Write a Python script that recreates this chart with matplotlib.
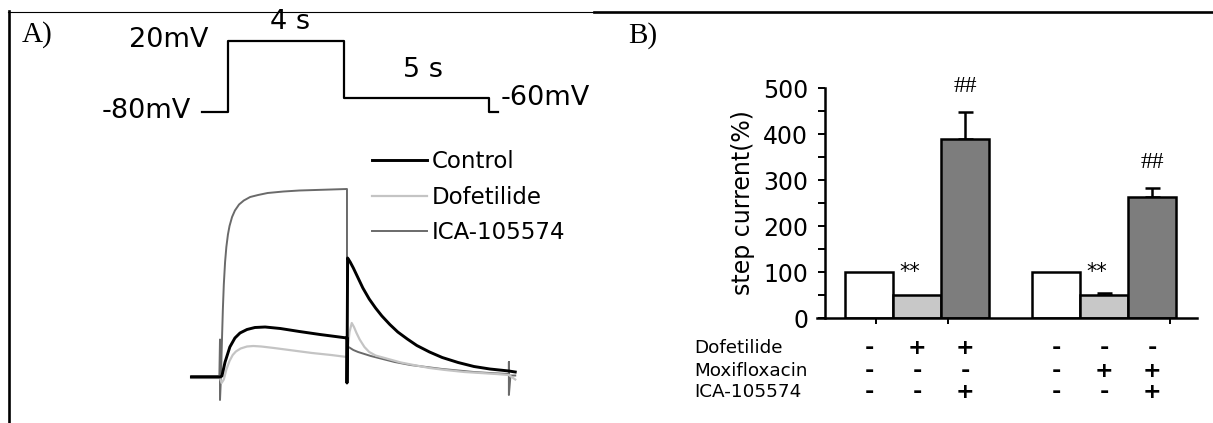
import matplotlib.pyplot as plt
from matplotlib.lines import Line2D
from matplotlib.transforms import blended_transform_factory

plt.rcParams['font.family'] = 'DejaVu Sans'

W, H = 1213, 423

# voltage protocol (s, mV)
proto_t = [-0.9, 0.0, 0.0, 4.0, 4.0, 9.0, 9.0, 9.3]
proto_v = [-80, -80, 20, 20, -60, -60, -80, -80]

# current traces (s, normalised to the control step current)
ctrl_t = [-0.9, 0.0, 0.06, 0.16, 0.31, 0.47, 0.63, 0.85, 1.1, 1.42, 1.9, 2.5, 3.15, 4.0,
          4.0, 4.02, 4.1, 4.2, 4.35, 4.5, 4.7, 4.9, 5.1, 5.35, 5.6, 5.9, 6.2, 6.6, 7.0,
          7.5, 8.0, 8.5, 9.1, 9.3]
ctrl_i = [0.0, 0.0, 0.02, 0.3, 0.6, 0.78, 0.88, 0.95, 0.99, 1.0, 0.97, 0.91, 0.85, 0.78,
          -0.12, 2.38, 2.3, 2.18, 1.98, 1.78, 1.56, 1.38, 1.22, 1.05, 0.9, 0.76, 0.63, 0.5, 0.39,
          0.29, 0.21, 0.16, 0.12, 0.1]

dof_t = [-0.9, 0.0, 0.05, 0.12, 0.2, 0.3, 0.4, 0.5, 0.65, 0.85, 1.05, 1.3, 1.7, 2.3, 2.9,
         3.5, 4.0, 4.03, 4.08, 4.15, 4.22, 4.3, 4.4, 4.55, 4.7, 4.9, 5.3, 5.7, 6.1, 6.6,
         7.1, 7.7, 8.2, 8.7, 9.1, 9.3]
dof_i = [-0.02, -0.02, -0.12, -0.05, 0.15, 0.32, 0.44, 0.51, 0.57, 0.61, 0.62, 0.61, 0.58,
         0.53, 0.48, 0.44, 0.4, 0.6, 0.9, 1.08, 1.0, 0.88, 0.75, 0.6, 0.5, 0.43, 0.36, 0.29,
         0.24, 0.18, 0.14, 0.1, 0.08, 0.06, 0.04, -0.05]

ica_t = [-0.9, -0.02, 0.0, 0.0, 0.03, 0.06, 0.09, 0.12, 0.16, 0.2, 0.25, 0.3, 0.38, 0.47,
         0.6, 0.75, 0.95, 1.2, 1.5, 2.0, 2.5, 3.0, 3.5, 4.0, 4.0, 4.1, 4.2, 4.35, 4.5, 4.75,
         5.0, 5.25, 5.5, 5.75, 6.0, 6.5, 7.0, 7.5, 8.0, 8.5, 9.1, 9.1, 9.1, 9.15, 9.3]
ica_i = [0.02, 0.02, 0.75, -0.46, 0.0, 0.7, 1.35, 1.85, 2.3, 2.6, 2.85, 3.02, 3.2, 3.33,
         3.45, 3.53, 3.6, 3.64, 3.68, 3.71, 3.73, 3.74, 3.75, 3.76, 0.62, 0.58, 0.54, 0.5, 0.47,
         0.42, 0.38, 0.34, 0.3, 0.27, 0.24, 0.2, 0.16, 0.13, 0.1, 0.08, 0.06, 0.3, -0.36, 0.03,
         0.03]

# panel B: step current (%) mean and upper SEM
bar_pos = [1, 2, 3, 4.9, 5.9, 6.9]
step_mean = [100, 50, 390, 100, 50, 263]
step_err = [0, 0, 58, 0, 4, 20]
bar_colors = ['white', '#c8c8c8', '#7d7d7d', 'white', '#c8c8c8', '#7d7d7d']
stars = ['', '**', '', '', '**', '']
hashes = ['', '', '##', '', '', '##']

row_names = ['Dofetilide', 'Moxifloxacin', 'ICA-105574']
row_signs = [['-', '+', '+', '-', '-', '-'],
             ['-', '-', '-', '-', '+', '+'],
             ['-', '-', '+', '-', '-', '+']]


def px_box(x0, y0, x1, y1):
    return [x0 / W, 1 - y1 / H, (x1 - x0) / W, (y1 - y0) / H]


fig = plt.figure(figsize=(W / 100, H / 100), dpi=100)

# --- table borders and panel letters
fig.add_artist(Line2D([8 / W, 594 / W], [1 - 12 / H] * 2, lw=0.8, color='black'))
fig.add_artist(Line2D([594 / W, 1.0], [1 - 12 / H] * 2, lw=1.9, color='black'))
fig.add_artist(Line2D([8.7 / W] * 2, [0.0, 1 - 11.5 / H], lw=1.9, color='black'))
fig.text(22 / W, 1 - 42 / H, 'A)', family='Liberation Serif', fontsize=21, va='baseline')
fig.text(628 / W, 1 - 43 / H, 'B)', family='Liberation Serif', fontsize=21, va='baseline')

# --- A: voltage protocol
ax_p = fig.add_axes(px_box(180, 20, 540, 130))
ax_p.plot(proto_t, proto_v, color='black', lw=1.6)
ax_p.set_xlim(-1.655, 10.76)
ax_p.set_ylim(-105.4, 49.6)
ax_p.axis('off')
fs_p = 19.5
ax_p.annotate('20mV', xy=(0, 20), xytext=(-14, 1), textcoords='offset points',
              ha='right', va='center', fontsize=fs_p)
ax_p.annotate('-80mV', xy=(proto_t[0], -80), xytext=(-8, 1), textcoords='offset points',
              ha='right', va='center', fontsize=fs_p)
ax_p.annotate('4 s', xy=(2, 20), xytext=(3, 14), textcoords='offset points',
              ha='center', va='center', fontsize=fs_p)
ax_p.annotate('5 s', xy=(6.5, -60), xytext=(5, 20), textcoords='offset points',
              ha='center', va='center', fontsize=fs_p)
ax_p.annotate('-60mV', xy=(proto_t[-1], -60), xytext=(2, 0), textcoords='offset points',
              ha='left', va='center', fontsize=fs_p)

# --- A: current traces
ax_t = fig.add_axes(px_box(180, 170, 540, 410))
ax_t.plot(ica_t, ica_i, color='#6a6a6a', lw=1.4, label='ICA-105574')
ax_t.plot(dof_t, dof_i, color='#c4c4c4', lw=1.6, label='Dofetilide')
ax_t.plot(ctrl_t, ctrl_i, color='black', lw=2.1, label='Control')
ax_t.set_xlim(-1.26, 10.08)
ax_t.set_ylim(-0.66, 4.14)
ax_t.axis('off')
handles, labels = ax_t.get_legend_handles_labels()
ax_t.legend(handles[::-1], labels[::-1], loc='upper left',
            bbox_to_anchor=(372 / W, 1 - 150 / H), bbox_transform=fig.transFigure,
            frameon=False, fontsize=16.5, handlelength=2.4, handletextpad=0.2,
            labelspacing=0.55, borderpad=0, borderaxespad=0)

# --- B: bar chart
ax_b = fig.add_axes(px_box(817, 88, 1197, 318))
ax_b.bar(bar_pos, step_mean, width=1.0, color=bar_colors, edgecolor='black', lw=1.8, zorder=2)
for x, m, e in zip(bar_pos, step_mean, step_err):
    if e > 0:
        ax_b.errorbar(x, m, yerr=[[0], [e]], fmt='none', ecolor='black',
                      elinewidth=1.8, capsize=5.4, capthick=1.8, zorder=1)
for x, m, e, s in zip(bar_pos, step_mean, step_err, stars):
    if s:
        ax_b.text(x - 0.15, m + 50, s, ha='center', va='center', fontsize=15)
for x, m, e, s in zip(bar_pos, step_mean, step_err, hashes):
    if s:
        ax_b.text(x, m + e + 55, s, ha='center', va='center', fontsize=17,
                  family='Liberation Serif')

ax_b.set_xlim(-0.084, 7.833)
ax_b.set_ylim(0, 500)
ax_b.spines['left'].set_position(('data', 0.083))
ax_b.spines['top'].set_visible(False)
ax_b.spines['right'].set_visible(False)
for sp in ('left', 'bottom'):
    ax_b.spines[sp].set_linewidth(1.8)
ax_b.set_yticks(range(0, 501, 100))
ax_b.set_yticks(range(50, 500, 100), minor=True)
ax_b.tick_params(axis='y', which='both', direction='out', length=5, width=1.4,
                 labelsize=17, pad=7)
ax_b.set_xticks([1.15, 2.65, 7.27])
ax_b.set_xticklabels([])
ax_b.tick_params(axis='x', direction='out', length=4, width=1.4)
ax_b.set_ylabel('step current(%)', fontsize=17, labelpad=6)

# condition table under the bars
tr = blended_transform_factory(ax_b.transData, fig.transFigure)
row_y = [348, 371, 392]
for name, signs, py in zip(row_names, row_signs, row_y):
    fig.text(694 / W, 1 - py / H, name, ha='left', va='center', fontsize=13.2)
    for x, s in zip(bar_pos, signs):
        ax_b.text(x, 1 - py / H, s, transform=tr, ha='center', va='center',
                  fontsize=16, fontweight='bold')

fig.savefig('out.png', dpi=100)
